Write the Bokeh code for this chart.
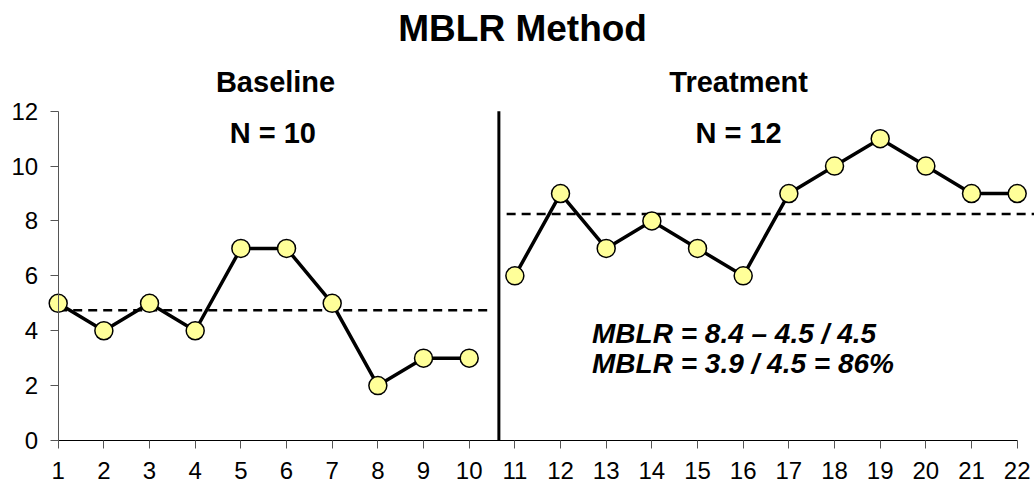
from bokeh.plotting import figure
from bokeh.models import Range1d, FixedTicker, Label, ColumnDataSource
from bokeh.embed import file_html
from bokeh.resources import INLINE

# ---- data ----
baseline_sessions = [1, 2, 3, 4, 5, 6, 7, 8, 9, 10]
baseline_values = [5, 4, 5, 4, 7, 7, 5, 2, 3, 3]
treatment_sessions = [11, 12, 13, 14, 15, 16, 17, 18, 19, 20, 21, 22]
treatment_values = [6, 9, 7, 8, 7, 6, 9, 10, 11, 10, 9, 9]
baseline_level = 4.75
treatment_level = 8.25
phase_change = 10.65
x_ticks = list(range(1, 23))
y_ticks = [0, 2, 4, 6, 8, 10, 12]

FONT = "Liberation Sans"

p = figure(width=1034, height=488, output_backend="svg", toolbar_location=None,
           x_range=Range1d(-0.2635, 22.379), y_range=Range1d(-1.749, 16.034),
           min_border_left=0, min_border_right=0, min_border_top=0, min_border_bottom=0)
p.outline_line_color = None
p.xgrid.visible = False
p.ygrid.visible = False
p.background_fill_color = "white"
p.border_fill_color = "white"

# axes
xa = p.xaxis[0]
xa.fixed_location = 0
xa.bounds = (1, 22)
xa.ticker = FixedTicker(ticks=x_ticks)
xa.minor_tick_line_color = None
xa.major_tick_in = 0
xa.major_tick_out = 8
xa.axis_line_color = "black"
xa.major_tick_line_color = "#555555"
xa.major_label_text_font = FONT
xa.major_label_text_font_size = "24px"
xa.major_label_text_color = "black"
xa.major_label_standoff = 13

ya = p.yaxis[0]
ya.fixed_location = 1
ya.bounds = (0, 12)
ya.ticker = FixedTicker(ticks=y_ticks)
ya.minor_tick_line_color = None
ya.major_tick_in = 0
ya.major_tick_out = 8
ya.axis_line_color = "#555555"
ya.major_tick_line_color = "#555555"
ya.major_label_text_font = FONT
ya.major_label_text_font_size = "24px"
ya.major_label_text_color = "black"
ya.major_label_standoff = 12

# level lines
p.line([1, 10.47], [baseline_level, baseline_level], line_color="black",
       line_width=2.5, line_dash="9 6")
p.line([10.82, 22.4], [treatment_level, treatment_level], line_color="black",
       line_width=2.5, line_dash="9 6")

# phase change line
p.line([phase_change, phase_change], [0, 12], line_color="black", line_width=3)

src_b = ColumnDataSource(dict(x=baseline_sessions, y=baseline_values))
src_t = ColumnDataSource(dict(x=treatment_sessions, y=treatment_values))
for src in (src_b, src_t):
    p.line("x", "y", source=src, line_color="black", line_width=3.5)
    p.scatter("x", "y", source=src, size=18, marker="circle",
              fill_color="#ffff99", line_color="black", line_width=1.5)

# texts
def lab(x, y, text, size, style="bold", align="center"):
    p.add_layout(Label(x=x, y=y, text=text, text_font=FONT, text_font_size=size,
                       text_font_style=style, text_align=align,
                       text_baseline="middle", text_color="black"))

lab(11.17, 15.0, "MBLR Method", "37px")
lab(5.76, 13.06, "Baseline", "29px")
lab(15.9, 13.06, "Treatment", "29px")
lab(5.7, 11.2, "N = 10", "29px")
lab(15.9, 11.2, "N = 12", "29px")
lab(12.69, 3.9, "MBLR = 8.4 \u2013 4.5 / 4.5", "28px", style="bold italic", align="left")
lab(12.69, 2.81, "MBLR = 3.9 / 4.5 = 86%", "28px", style="bold italic", align="left")

open("out.html", "w").write(file_html(p, INLINE))
